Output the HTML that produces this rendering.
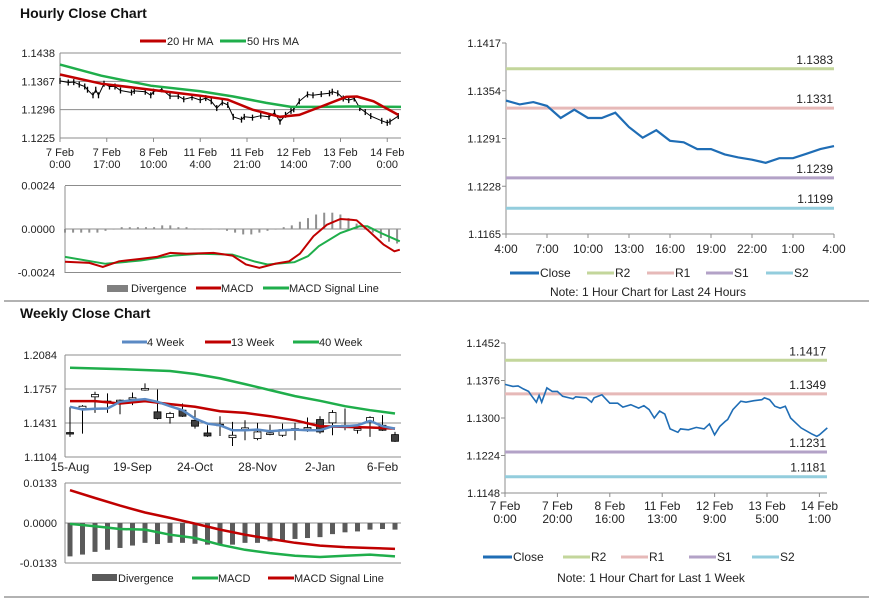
<!DOCTYPE html>
<html><head><meta charset="utf-8">
<style>
html,body{margin:0;padding:0;background:#fff;}
svg{display:block;font-family:"Liberation Sans",Arial,sans-serif;}
text{font-size:11px;fill:#222;}
</style></head>
<body>
<svg id="c" width="873" height="601" viewBox="0 0 873 601" xmlns="http://www.w3.org/2000/svg">
<rect x="0" y="0" width="873" height="601" fill="#fff"/>
<text x="20" y="18" style="font-size:14px;font-weight:bold;fill:#111">Hourly Close Chart</text>
<line x1="4" y1="301" x2="869" y2="301" stroke="#999" stroke-width="1.5"/>
<text x="20" y="318" style="font-size:14px;font-weight:bold;fill:#111">Weekly Close Chart</text>
<line x1="4" y1="597" x2="869" y2="597" stroke="#999" stroke-width="1.5"/>
</svg>
<script>
// ---------- data ----------
const weekHours = [0,3,5,7,9,10,12,13,14,16,18,20,22,26,27,31,33,34,37,40,43,45,48,51,53,55,57,59,61,63,66,67,70,73,76,78,80,82,84,85,87,90,92,95,98,99,101,103,105,107,109,111,113,117,119,120,123];
const weekClose = [1.1368,1.1364,1.1365,1.1359,1.1354,1.1346,1.1332,1.1346,1.1332,1.1361,1.1354,1.1354,1.1344,1.1339,1.1343,1.1341,1.1332,1.1341,1.1347,1.1330,1.1330,1.1322,1.1327,1.1320,1.1325,1.1317,1.1300,1.1314,1.1308,1.1278,1.1271,1.1278,1.1276,1.1281,1.1278,1.1288,1.1266,1.1283,1.1293,1.1297,1.1317,1.1334,1.1332,1.1335,1.1337,1.1341,1.1337,1.1324,1.1320,1.1324,1.1300,1.1290,1.1280,1.1268,1.1263,1.1266,1.1280];
const ma20Hours = [0,15,33,51,61,70,80,87,95,104,108,114,123];
const ma20 = [1.1384,1.1361,1.1346,1.1331,1.1321,1.1296,1.1278,1.1283,1.1304,1.1328,1.1329,1.1317,1.1283];
const ma50Hours = [0,15,33,51,63,75,84,93,106,124];
const ma50 = [1.1409,1.1381,1.1356,1.1342,1.1329,1.1313,1.1303,1.1303,1.1304,1.1303];
const hourTicks = ["1.1438","1.1367","1.1296","1.1225"];
const hourXLabels = [["7 Feb","0:00"],["7 Feb","17:00"],["8 Feb","10:00"],["11 Feb","4:00"],["11 Feb","21:00"],["12 Feb","14:00"],["13 Feb","7:00"],["14 Feb","0:00"]];
const hMacdHours = [0,9,14,20,28,34,39,45,55,62,67,72,78,83,87,92,97,102,106,108,112,118,122,124];
const hMacd = [-0.00181,-0.00187,-0.00209,-0.00178,-0.00165,-0.00154,-0.00132,-0.00136,-0.00132,-0.00147,-0.00196,-0.00214,-0.00191,-0.00178,-0.00136,-0.0004,0.00024,0.00055,0.00051,0.00048,-0.00004,-0.00086,-0.00123,-0.00114];
const hSigHours = [0,15,28,40,50,62,70,75,85,90,94,102,109,112,117,124];
const hSig = [-0.00154,-0.00192,-0.00174,-0.00147,-0.00137,-0.00141,-0.00178,-0.00196,-0.00183,-0.0015,-0.00095,-0.00022,0.00015,0.00015,-0.00022,-0.00068];
const hDiv = [-0.0002,-0.0002,-0.0002,-0.0002,-0.0002,-0.0001,0,0.0001,0.0001,0.0001,0.0001,0.0001,0.0002,0.0002,0.0001,0.0001,0,0,0,0,-0.0001,-0.0002,-0.0003,-0.0003,-0.0002,-0.0001,0,0.0001,0.0002,0.0004,0.0006,0.0008,0.0009,0.0009,0.0008,0.0006,0.0003,0,-0.0002,-0.0005,-0.0007,-0.0008];
const hMacdTicks = ["0.0024","0.0000","-0.0024"];
// day chart
const dayLabels = ["4:00","7:00","10:00","13:00","16:00","19:00","22:00","1:00","4:00"];
const dayClose = [1.1341,1.1336,1.1339,1.1334,1.1318,1.1329,1.1318,1.1318,1.1325,1.1306,1.1292,1.1302,1.1288,1.1286,1.1277,1.1277,1.1270,1.1266,1.1263,1.1259,1.1265,1.1265,1.1271,1.1277,1.1281];
const dayPivots = [1.1383,1.1331,1.1239,1.1199];
const dayTicks = ["1.1417","1.1354","1.1291","1.1228","1.1165"];
const wkPivots = [1.1417,1.1349,1.1231,1.1181];
const wkTicks = ["1.1452","1.1376","1.1300","1.1224","1.1148"];
const wkXLabels = [["7 Feb","0:00"],["7 Feb","20:00"],["8 Feb","16:00"],["11 Feb","13:00"],["12 Feb","9:00"],["13 Feb","5:00"],["14 Feb","1:00"]];
// weekly candles
const wOpen = [1.1339,1.1570,1.1682,1.1634,1.1644,1.1663,1.1747,1.1538,1.1483,1.1554,1.1457,1.1335,1.1419,1.1290,1.1371,1.1281,1.1329,1.1313,1.1367,1.1384,1.1464,1.1432,1.1400,1.1361,1.1441,1.1409,1.1319];
const wClose = [1.1329,1.1592,1.1705,1.1641,1.1650,1.1673,1.1763,1.1474,1.1522,1.1496,1.1400,1.1306,1.1416,1.1313,1.1384,1.1345,1.1335,1.1367,1.1377,1.1387,1.1345,1.1531,1.1409,1.1377,1.1483,1.1361,1.1255];
const wHigh = [1.1586,1.1602,1.1731,1.1715,1.1657,1.1724,1.1811,1.1753,1.1538,1.1618,1.1554,1.1409,1.1496,1.1441,1.1457,1.1432,1.1416,1.1425,1.1432,1.1483,1.1496,1.1554,1.1570,1.1409,1.1496,1.1506,1.1345];
const wLow = [1.1297,1.1329,1.1528,1.1528,1.1515,1.1602,1.1740,1.1464,1.1425,1.1490,1.1377,1.1297,1.1306,1.1210,1.1265,1.1265,1.1313,1.1297,1.1265,1.1345,1.1329,1.1313,1.1361,1.1329,1.1297,1.1355,1.1249];
const w4 = [1.1586,1.1560,1.1567,1.1570,1.1634,1.1650,1.1660,1.1634,1.1592,1.1554,1.1474,1.1425,1.1409,1.1361,1.1361,1.1367,1.1351,1.1361,1.1367,1.1361,1.1361,1.1400,1.1400,1.1409,1.1451,1.1400,1.1377];
const w13Idx = [0,2,4,6,8,10,12,14,16,18,20,22,24,26];
const w13 = [1.1641,1.1641,1.1618,1.1641,1.1612,1.1586,1.1544,1.1528,1.1496,1.1457,1.1400,1.1393,1.1387,1.1377];
const w40Idx = [0,4,8,10,12,14,16,18,20,22,24,26];
const w40 = [1.1962,1.1949,1.1930,1.1901,1.1859,1.1804,1.1747,1.1689,1.1644,1.1592,1.1554,1.1522];
const wTicks = ["1.2084","1.1757","1.1431","1.1104"];
const wXLabels = ["15-Aug","19-Sep","24-Oct","28-Nov","2-Jan","6-Feb"];
const wDiv = [-0.0111,-0.0105,-0.0096,-0.0089,-0.0083,-0.0075,-0.0066,-0.0070,-0.0066,-0.0066,-0.0069,-0.0072,-0.0072,-0.0072,-0.0066,-0.0066,-0.0061,-0.0058,-0.0053,-0.0050,-0.0047,-0.0037,-0.0031,-0.0028,-0.0022,-0.0020,-0.0022];
const wMacdIdx = [0,2,4,6,8,10,12,14,16,18,20,22,24,26];
const wMacd = [-0.0003,-0.0011,-0.0020,-0.0022,-0.0039,-0.0050,-0.0072,-0.0089,-0.0100,-0.0109,-0.0113,-0.0109,-0.0105,-0.0111];
const wSig = [0.0109,0.0083,0.0058,0.0035,0.0017,-0.0002,-0.0022,-0.0039,-0.0053,-0.0066,-0.0075,-0.0080,-0.0083,-0.0086];
const wMacdTicks = ["0.0133","0.0000","-0.0133"];

// ---------- helpers ----------
const NS = "http://www.w3.org/2000/svg";
const svg = document.getElementById('c');
function mk(tag, attrs){ const e = document.createElementNS(NS, tag); for (const k in attrs) e.setAttribute(k, attrs[k]); svg.appendChild(e); return e; }
function txt(x, y, s, anchor, size){ const t = mk('text', {x:x, y:y, 'text-anchor':anchor||'start'}); if(size) t.style.fontSize=size+'px'; t.textContent = s; return t; }
function pathFrom(xs, ys){ return xs.map((x,i)=>(i?'L':'M')+x.toFixed(1)+' '+ys[i].toFixed(1)).join(''); }
const GRID = '#8c8c8c';

// ---------- hourly price (top-left) ----------
const hx = h => 60 + h*2.75;
const hy = v => 53 + (1.1438 - v)/0.0213*85;
hourTicks.forEach(s=>{
  const y = hy(parseFloat(s));
  const g = mk('line',{x1:60,y1:y,x2:401,y2:y,stroke:GRID,'stroke-width':1});
   
  const t = txt(55, y+4, s, 'end');
   
});
let a = mk('line',{x1:60,y1:53,x2:60,y2:138,stroke:GRID});
 
hourXLabels.forEach((l,i)=>{
  const x = hx(i*17);
  const tk = mk('line',{x1:x,y1:138,x2:x,y2:142,stroke:GRID});
   
  const t1 = txt(x, 156, l[0], 'middle');  
  const t2 = txt(x, 168, l[1], 'middle');  
});
weekHours.forEach((h,i)=>{
  const x = hx(h), y = hy(weekClose[i]);
  const c = mk('line',{x1:x,y1:y-3,x2:x,y2:y+3,stroke:'#000','stroke-width':1.3});
   
});
let p = mk('path',{d:pathFrom(weekHours.map(hx), weekClose.map(hy)),fill:'none',stroke:'#000','stroke-width':1});
 
p = mk('path',{d:pathFrom(ma50Hours.map(hx), ma50.map(hy)),fill:'none',stroke:'#1fae4b','stroke-width':2.5});
 
p = mk('path',{d:pathFrom(ma20Hours.map(hx), ma20.map(hy)),fill:'none',stroke:'#c00000','stroke-width':2.5});
 
let l = mk('line',{x1:140,y1:41,x2:166,y2:41,stroke:'#c00000','stroke-width':3});  
let t = txt(167,45,'20 Hr MA');  
l = mk('line',{x1:220,y1:41,x2:246,y2:41,stroke:'#1fae4b','stroke-width':3});  
t = txt(247,45,'50 Hrs MA');  

// ---------- hourly MACD ----------
const mx = h => 65 + h*2.7;
const my = v => 229 - v/0.0024*43.5;
hMacdTicks.forEach(s=>{
  const y = my(parseFloat(s));
  const g = mk('line',{x1:65,y1:y,x2:401,y2:y,stroke:GRID});
   
  const tt = txt(55, y+4, s, 'end');  
});
a = mk('line',{x1:65,y1:186,x2:65,y2:273,stroke:GRID});  
hDiv.forEach((v,i)=>{
  const x = mx(i*3), y0 = my(0), y1 = my(v);
  const b = mk('rect',{x:x-1,y:Math.min(y0,y1),width:2,height:Math.max(0.6,Math.abs(y1-y0)),fill:'#909090'});
   
});
p = mk('path',{d:pathFrom(hSigHours.map(mx), hSig.map(my)),fill:'none',stroke:'#1fae4b','stroke-width':2});
 
p = mk('path',{d:pathFrom(hMacdHours.map(mx), hMacd.map(my)),fill:'none',stroke:'#c00000','stroke-width':2});
 
let r = mk('rect',{x:107,y:285,width:21,height:7,fill:'#808080'});  
t = txt(131,292,'Divergence');  
l = mk('line',{x1:196,y1:288,x2:221,y2:288,stroke:'#c00000','stroke-width':3});  
t = txt(221,292,'MACD');  
l = mk('line',{x1:263,y1:288,x2:289,y2:288,stroke:'#1fae4b','stroke-width':3});  
t = txt(289,292,'MACD Signal Line');  

// ---------- pivot charts ----------
const pivColors = ['#c3d69b','#e6b9b8','#b3a2c7','#93cddd'];
const pivNames = ['R2','R1','S1','S2'];
function pivotChart(cfg){
  const xs = cfg.x, ys = cfg.y;
  cfg.ticks.forEach(s=>{
    const tt = txt(cfg.x0-5, ys(parseFloat(s))+4, s, 'end');
     
  });
  let ax = mk('line',{x1:cfg.x0,y1:ys(parseFloat(cfg.ticks[0])),x2:cfg.x0,y2:cfg.yb,stroke:GRID});
   
  ax = mk('line',{x1:cfg.x0,y1:cfg.yb,x2:cfg.x1,y2:cfg.yb,stroke:GRID});
   
  cfg.ticks.forEach(s=>{
    const y = ys(parseFloat(s));
    const k = mk('line',{x1:cfg.x0-4,y1:y,x2:cfg.x0,y2:y,stroke:GRID});
     
  });
  cfg.pivots.forEach((v,i)=>{
    const y = ys(v);
    const pl = mk('line',{x1:cfg.x0,y1:y,x2:cfg.x1,y2:y,stroke:pivColors[i],'stroke-width':3});
     
    const pt = txt(cfg.x1-1, y-5, v.toFixed(4), 'end', 12);
     
  });
  const cp = mk('path',{d:pathFrom(cfg.hours.map(xs), cfg.close.map(ys)),fill:'none',stroke:'#1f6db5','stroke-width':cfg.lw});
   
  cfg.labels.forEach((lb,i)=>{
    const x = xs(cfg.labelAt[i]);
    const k = mk('line',{x1:x,y1:cfg.yb,x2:x,y2:cfg.yb+4,stroke:GRID});
     
    if (Array.isArray(lb)) {
      const a1 = txt(x, cfg.yb+17, lb[0], 'middle', 12);  
      const a2 = txt(x, cfg.yb+30, lb[1], 'middle', 12);  
    } else {
      const a1 = txt(x, cfg.yb+19, lb, 'middle', 12);  
    }
  });
  const lx = cfg.legendX;
  const ly = cfg.legendY;
  let sw = mk('line',{x1:lx[0],y1:ly,x2:lx[0]+29,y2:ly,stroke:'#1f6db5','stroke-width':3});
   
  let lt = txt(lx[0]+30, ly+4, 'Close', 'start', 12);
   
  pivNames.forEach((n,i)=>{
    const s2 = mk('line',{x1:lx[i+1],y1:ly,x2:lx[i+1]+27,y2:ly,stroke:pivColors[i],'stroke-width':3});
     
    const t2 = txt(lx[i+1]+28, ly+4, n, 'start', 12);
     
  });
  const nt = txt(cfg.noteX, cfg.noteY, cfg.note, 'middle', 12);
   
}
const dayIdx = dayClose.map((v,i)=>i);
pivotChart({name:'day-chart', x0:506, x1:834, yb:234,
  x: i => 506 + i*(328/24), y: v => 43 + (1.1417 - v)/0.0252*191,
  ticks: dayTicks, pivots: dayPivots, hours: dayIdx, close: dayClose, lw:2.2,
  labels: dayLabels, labelAt: dayLabels.map((s,i)=>i*3),
  legendX:[510,587,647,706,766], legendY:273, noteX:648, noteY:296, note:'Note: 1 Hour Chart for Last 24 Hours'});
pivotChart({name:'week-chart', x0:505, x1:827, yb:493,
  x: h => 505 + h*2.62, y: v => 343 + (1.1452 - v)/0.0304*150,
  ticks: wkTicks, pivots: wkPivots, hours: weekHours, close: weekClose, lw:1.6,
  labels: wkXLabels, labelAt: wkXLabels.map((s,i)=>i*20),
  legendX:[483,563,621,689,752], legendY:557, noteX:651, noteY:582, note:'Note: 1 Hour Chart for Last 1 Week'});

// ---------- weekly candles ----------
const wx = i => 70 + 12.5*i;
const wy = v => 355 + (1.2084 - v)/0.098*102;
wTicks.forEach(s=>{
  const y = wy(parseFloat(s));
  const g = mk('line',{x1:65,y1:y,x2:401,y2:y,stroke:GRID});
   
  const tt = txt(57, y+4, s, 'end');  
});
a = mk('line',{x1:65,y1:355,x2:65,y2:457,stroke:GRID});  
wXLabels.forEach((s,i)=>{
  const x = wx(i*5);
  const tt = txt(x, 471, s, 'middle', 12);  
});
wOpen.forEach((o,i)=>{
  const x = wx(i), c = wClose[i];
  const wk = mk('line',{x1:x,y1:wy(wHigh[i]),x2:x,y2:wy(wLow[i]),stroke:'#000','stroke-width':1});
   
  const top = wy(Math.max(o,c)), bot = wy(Math.min(o,c));
  const bd = mk('rect',{x:x-3.5,y:top,width:7,height:Math.max(1.5,bot-top),fill:c<o?'#404040':'#fff',stroke:'#000','stroke-width':0.8});
   
});
p = mk('path',{d:pathFrom(w40Idx.map(wx), w40.map(wy)),fill:'none',stroke:'#1fae4b','stroke-width':2.5});
 
p = mk('path',{d:pathFrom(w13Idx.map(wx), w13.map(wy)),fill:'none',stroke:'#c00000','stroke-width':2.5});
 
p = mk('path',{d:pathFrom(w4.map((v,i)=>wx(i)), w4.map(wy)),fill:'none',stroke:'#5b8ac4','stroke-width':2.5});
 
l = mk('line',{x1:122,y1:342,x2:147,y2:342,stroke:'#5b8ac4','stroke-width':3});  
t = txt(147,346,'4 Week');  
l = mk('line',{x1:205,y1:342,x2:231,y2:342,stroke:'#c00000','stroke-width':3});  
t = txt(231,346,'13 Week');  
l = mk('line',{x1:293,y1:342,x2:319,y2:342,stroke:'#1fae4b','stroke-width':3});  
t = txt(319,346,'40 Week');  

// ---------- weekly MACD ----------
const wmy = v => 523 - v/0.0133*40;
wMacdTicks.forEach(s=>{
  const y = wmy(parseFloat(s));
  const g = mk('line',{x1:65,y1:y,x2:401,y2:y,stroke:GRID});
   
  const tt = txt(57, y+4, s, 'end');  
});
a = mk('line',{x1:65,y1:483,x2:65,y2:563,stroke:GRID});  
wDiv.forEach((v,i)=>{
  const x = wx(i), y0 = wmy(0), y1 = wmy(v);
  const b = mk('rect',{x:x-2.5,y:Math.min(y0,y1),width:5,height:Math.abs(y1-y0),fill:'#5a5a5a'});
   
});
p = mk('path',{d:pathFrom(wMacdIdx.map(wx), wSig.map(wmy)),fill:'none',stroke:'#c00000','stroke-width':2.5});
 
p = mk('path',{d:pathFrom(wMacdIdx.map(wx), wMacd.map(wmy)),fill:'none',stroke:'#1fae4b','stroke-width':2.5});
 
r = mk('rect',{x:92,y:574,width:25,height:7,fill:'#5a5a5a'});  
t = txt(118,582,'Divergence');  
l = mk('line',{x1:192,y1:578,x2:218,y2:578,stroke:'#1fae4b','stroke-width':3});  
t = txt(218,582,'MACD');  
l = mk('line',{x1:268,y1:578,x2:294,y2:578,stroke:'#c00000','stroke-width':3});  
t = txt(294,582,'MACD Signal Line');  
</script>
</body></html>
